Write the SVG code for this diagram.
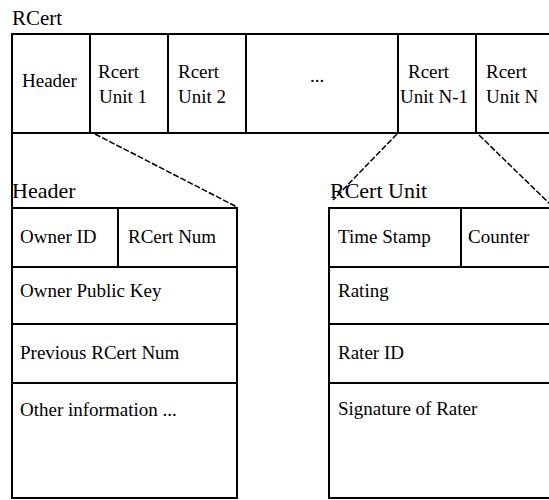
<svg xmlns="http://www.w3.org/2000/svg" width="549" height="500" viewBox="0 0 549 500">
<style>
text{font-family:"Liberation Serif","Times New Roman",serif;fill:#000}
.c{font-size:19px}
.l{font-size:22px}
.t{font-size:21px}
.b{fill:none;stroke:#000;stroke-width:2}
.d{fill:none;stroke:#000;stroke-width:1.5;stroke-dasharray:6 2}
</style>
<rect width="549" height="500" fill="#fff"/>
<text class="t" x="12" y="25">RCert</text>
<g id="rcert">
<path class="b" d="M560,34 H12 V133 H560 M90,34 V133 M168,34 V133 M246,34 V133 M398,34 V133 M476,34 V133"/>
<text class="c" x="22" y="87">Header</text>
<text class="c" x="98" y="78">Rcert</text><text class="c" x="99" y="103">Unit 1</text>
<text class="c" x="178" y="78">Rcert</text><text class="c" x="178" y="103">Unit 2</text>
<text class="c" x="310" y="82">...</text>
<text class="c" x="408" y="78">Rcert</text><text class="c" x="400" y="103">Unit N-1</text>
<text class="c" x="486" y="78">Rcert</text><text class="c" x="486" y="103">Unit N</text>
</g>
<g id="header">
<text class="l" x="12" y="198">Header</text>
<path class="b" d="M12,133 V498 H237 V208 H12 M12,267 H237 M12,324 H237 M12,383 H237 M118,208 V267"/>
<text class="c" x="20" y="243">Owner ID</text>
<text class="c" x="128" y="243">RCert Num</text>
<text class="c" x="20" y="297">Owner Public Key</text>
<text class="c" x="20" y="359">Previous RCert Num</text>
<text class="c" x="20" y="416">Other information ...</text>
</g>
<g id="rcert-unit">
<text class="l" x="330" y="198">RCert Unit</text>
<path class="b" d="M560,208 H329 V498 H560 M329,267 H560 M329,324 H560 M329,383 H560 M461,208 V267"/>
<text class="c" x="338" y="243">Time Stamp</text>
<text class="c" x="468" y="243">Counter</text>
<text class="c" x="338" y="297">Rating</text>
<text class="c" x="338" y="359">Rater ID</text>
<text class="c" x="338" y="415">Signature of Rater</text>
</g>
<g id="connectors">
<line class="d" x1="95" y1="134" x2="237" y2="207"/>
<line class="d" x1="397" y1="134" x2="333" y2="200"/>
<line class="d" x1="479" y1="135" x2="554" y2="208"/>
</g>
</svg>
